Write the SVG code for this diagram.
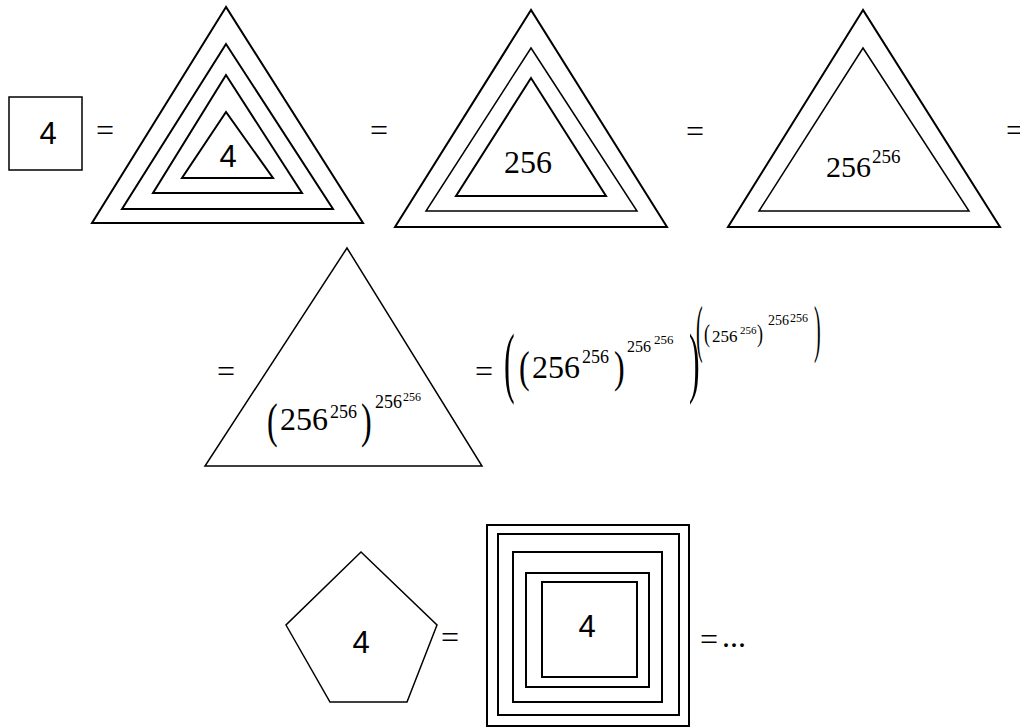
<svg xmlns="http://www.w3.org/2000/svg" width="1020" height="727" viewBox="0 0 1020 727">
<style>
.s{fill:none;stroke:#000;stroke-width:2;stroke-linejoin:miter}
.t{fill:none;stroke:#000;stroke-width:1.5}
</style>
<rect width="1020" height="727" fill="#fff"/>
<g id="square4">
<rect class="t" x="9" y="97" width="73" height="73"/>
<text font-family="Liberation Sans, Arial, sans-serif" font-size="31" x="48" y="144" text-anchor="middle">4</text>
</g>
<g id="tri1">
<polygon class="s" points="226,7 92,223 363,223"/>
<polygon class="s" points="226,44 122,209 333,209"/>
<polygon class="s" points="226,75 153,193 302,193"/>
<polygon class="s" points="226,112 182,178 273,178"/>
<text font-family="Liberation Sans, Arial, sans-serif" font-size="31" x="228" y="167" text-anchor="middle">4</text>
</g>
<g id="tri2">
<polygon class="s" points="531,10 395,227 667,227"/>
<polygon class="t" points="531,48 426,211 637,211"/>
<polygon class="s" points="531,78 456,196 606,196"/>
<text font-family="serif" x="504" y="173" font-size="32">256</text>
</g>
<g id="tri3">
<polygon class="s" points="863,10 728,227 1000,227"/>
<polygon class="t" points="863,48 759,211 969,211"/>
<text font-family="serif" x="826" y="177" font-size="30">256</text>
<text font-family="serif" x="872" y="163" font-size="19">256</text>
</g>
<g id="tri4">
<polygon class="t" points="347,248 205,466 482,466"/>
<text font-family="serif" transform="translate(267,436.5) scale(1,1.51)" font-size="32">(</text>
<text font-family="serif" x="280" y="430" font-size="32">256</text>
<text font-family="serif" x="330" y="418" font-size="18">256</text>
<text font-family="serif" transform="translate(361,436.5) scale(1,1.51)" font-size="32">)</text>
<text font-family="serif" x="375" y="408" font-size="18">256</text>
<text font-family="serif" x="403" y="401" font-size="12">256</text>
</g>
<g id="formula">
<text font-family="serif" transform="translate(504,388) scale(1,2.47)" font-size="32">(</text>
<text font-family="serif" transform="translate(519,382.4) scale(1,1.37)" font-size="32">(</text>
<text font-family="serif" x="532" y="378" font-size="32">256</text>
<text font-family="serif" x="582" y="363" font-size="18">256</text>
<text font-family="serif" transform="translate(614,382.4) scale(1,1.37)" font-size="32">)</text>
<text font-family="serif" x="627" y="352" font-size="16">256</text>
<text font-family="serif" x="654" y="344" font-size="13">256</text>
<text font-family="serif" transform="translate(689,388) scale(1,2.47)" font-size="32">)</text>
<text font-family="serif" transform="translate(696,350.4) scale(1,3.13)" font-size="20">(</text>
<text font-family="serif" transform="translate(704,341.7) scale(1,1.34)" font-size="18">(</text>
<text font-family="serif" x="712" y="342" font-size="17">256</text>
<text font-family="serif" x="740" y="334" font-size="11">256</text>
<text font-family="serif" transform="translate(757,341.7) scale(1,1.34)" font-size="18">)</text>
<text font-family="serif" x="768" y="325" font-size="14">256</text>
<text font-family="serif" x="790" y="322" font-size="12">256</text>
<text font-family="serif" transform="translate(814,350.4) scale(1,3.13)" font-size="20">)</text>
</g>
<g id="pentagon4">
<polygon class="t" points="361,552 437,625 407,702 330,702 286,625"/>
<text font-family="Liberation Sans, Arial, sans-serif" font-size="31" x="361" y="653" text-anchor="middle">4</text>
</g>
<g id="squares">
<rect class="s" x="487" y="525" width="202" height="201"/>
<rect class="s" x="498" y="534" width="181" height="181"/>
<rect class="s" x="513" y="552" width="149" height="150"/>
<rect class="s" x="526" y="573" width="123" height="114"/>
<rect class="s" x="542" y="582" width="95" height="95"/>
<text font-family="Liberation Sans, Arial, sans-serif" font-size="31" x="587" y="637" text-anchor="middle">4</text>
</g>
<g id="connectors">
<text font-family="serif" font-size="32" x="96" y="141">=</text>
<text font-family="serif" font-size="32" x="370" y="141">=</text>
<text font-family="serif" font-size="32" x="686" y="142">=</text>
<text font-family="serif" font-size="32" x="1006" y="141">=</text>
<text font-family="serif" font-size="32" x="217" y="382">=</text>
<text font-family="serif" font-size="32" x="475" y="382">=</text>
<text font-family="serif" font-size="32" x="441" y="648">=</text>
<text font-family="serif" font-size="32" x="700" y="650">=</text>
<text font-family="serif" font-size="32" x="722" y="647">...</text>
</g>
</svg>
